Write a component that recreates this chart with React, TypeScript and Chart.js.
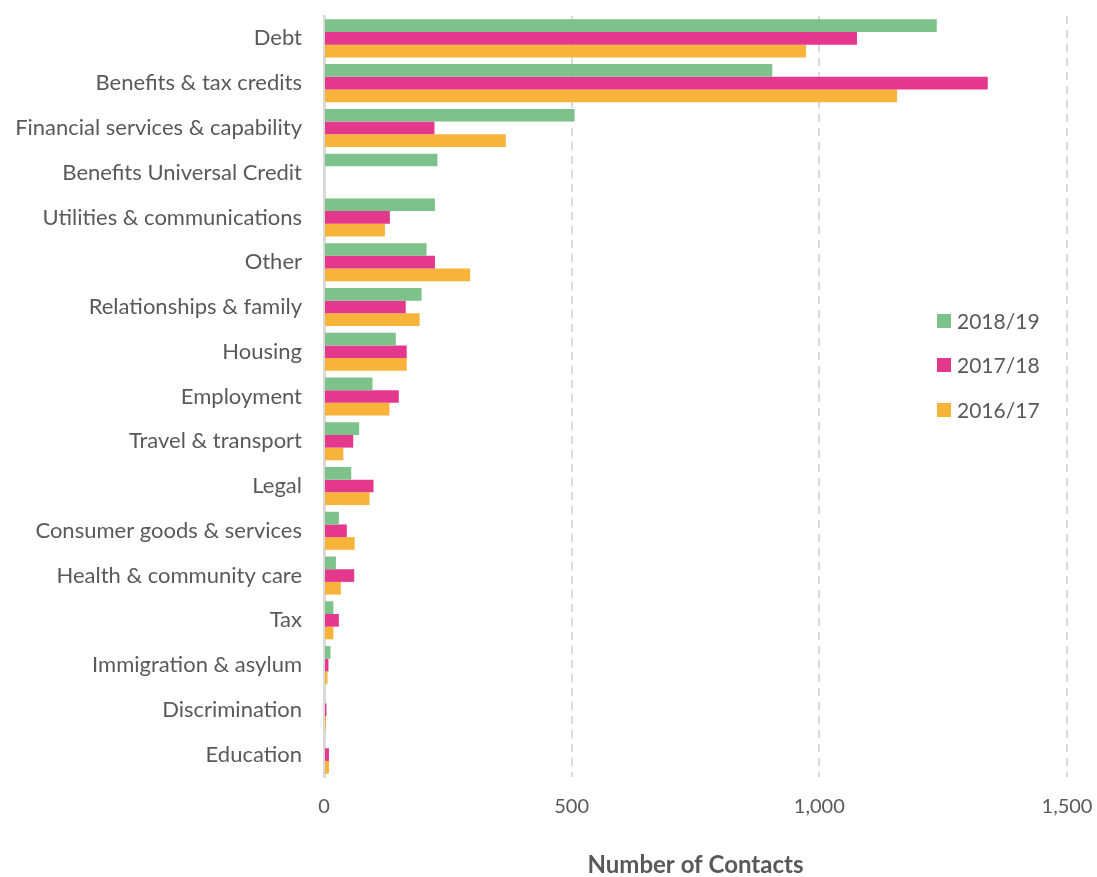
import React, { useEffect, useRef } from "react";
import { Chart, registerables } from "chart.js";

Chart.register(...registerables);

const categories = [
  "Debt",
  "Benefits & tax credits",
  "Financial services & capability",
  "Benefits Universal Credit",
  "Utilities & communications",
  "Other",
  "Relationships & family",
  "Housing",
  "Employment",
  "Travel & transport",
  "Legal",
  "Consumer goods & services",
  "Health & community care",
  "Tax",
  "Immigration & asylum",
  "Discrimination",
  "Education",
];

const series1819 = [1237, 905, 506, 229, 224, 207, 197, 145, 98, 71, 55, 30, 24, 19, 13, 2, 0];
const series1718 = [1076, 1340, 223, 0, 133, 224, 165, 167, 151, 59, 100, 46, 61, 30, 9, 5, 10];
const series1617 = [973, 1157, 367, 0, 123, 295, 193, 167, 132, 39, 92, 62, 34, 19, 7, 4, 10];

const seriesLabels = ["2018/19", "2017/18", "2016/17"];
const seriesColors = ["#7DC18B", "#E4388C", "#F8B33B"];
const xTicks = [0, 500, 1000, 1500];

const FONT = "Lato, 'Open Sans', sans-serif";
const TEXT = "#595959";

const legendPlugin = {
  id: "customLegend",
  afterDraw(chart: any) {
    const ctx = chart.ctx;
    ctx.save();
    const x = 937;
    const ys = [321, 365, 410];
    chart.data.datasets.forEach((ds: any, i: number) => {
      ctx.fillStyle = ds.backgroundColor;
      ctx.fillRect(x, ys[i] - 7, 14, 14);
      ctx.fillStyle = TEXT;
      ctx.font = `21px ${FONT}`;
      ctx.textBaseline = "middle";
      ctx.textAlign = "left";
      ctx.fillText(ds.label, x + 20, ys[i] + 1);
    });
    ctx.restore();
  },
};

export default function App() {
  const ref = useRef<HTMLCanvasElement>(null);
  useEffect(() => {
    if (!ref.current) return;
    const data = [series1819, series1718, series1617];
    const chart = new Chart(ref.current, {
      type: "bar",
      data: {
        labels: categories,
        datasets: seriesLabels.map((l, i) => ({
          label: l,
          data: data[i],
          backgroundColor: seriesColors[i],
          borderWidth: 0,
          barPercentage: 1,
          categoryPercentage: 0.85,
        })),
      },
      options: {
        indexAxis: "y",
        animation: false,
        responsive: false,
        maintainAspectRatio: false,
        layout: { padding: { top: 16, right: 30, bottom: 0, left: 0 } },
        plugins: { legend: { display: false }, tooltip: { enabled: false } },
        scales: {
          x: {
            min: 0,
            max: 1500,
            afterBuildTicks: (axis: any) => {
              axis.ticks = xTicks.map((v) => ({ value: v }));
            },
            afterFit: (axis: any) => {
              axis.height = 100;
              axis.paddingLeft = 0;
              axis.paddingRight = 0;
            },
            grid: {
              color: (c: any) => (c.tick && c.tick.value === 0 ? "rgba(0,0,0,0)" : "#D9D9D9"),
              lineWidth: 2,
              drawTicks: false,
            },
            border: { display: false, dash: [8, 6] },
            ticks: {
              padding: 18,
              color: TEXT,
              font: { family: FONT, size: 20 },
              callback: (v: any) => Number(v).toLocaleString("en-US"),
            },
            title: {
              display: true,
              text: "Number of Contacts",
              color: TEXT,
              font: { family: FONT, size: 24, weight: "bold", lineHeight: 1.0 },
              padding: { top: 0, bottom: 0 },
            },
          },
          y: {
            afterFit: (axis: any) => {
              axis.width = 324;
              axis.paddingTop = 0;
              axis.paddingBottom = 0;
            },
            grid: { display: false, drawTicks: false },
            border: { display: true, color: "#D9D9D9", width: 3 },
            ticks: {
              padding: 22,
              color: TEXT,
              font: { family: FONT, size: 22 },
              autoSkip: false,
            },
          },
        },
      },
      plugins: [legendPlugin],
    } as any);
    return () => chart.destroy();
  }, []);
  return (
    <div style={{ position: "fixed", left: 0, top: 0, width: 1097, height: 877, background: "#fff" }}>
      <canvas ref={ref} width={1097} height={877} style={{ width: 1097, height: 877 }} />
    </div>
  );
}
